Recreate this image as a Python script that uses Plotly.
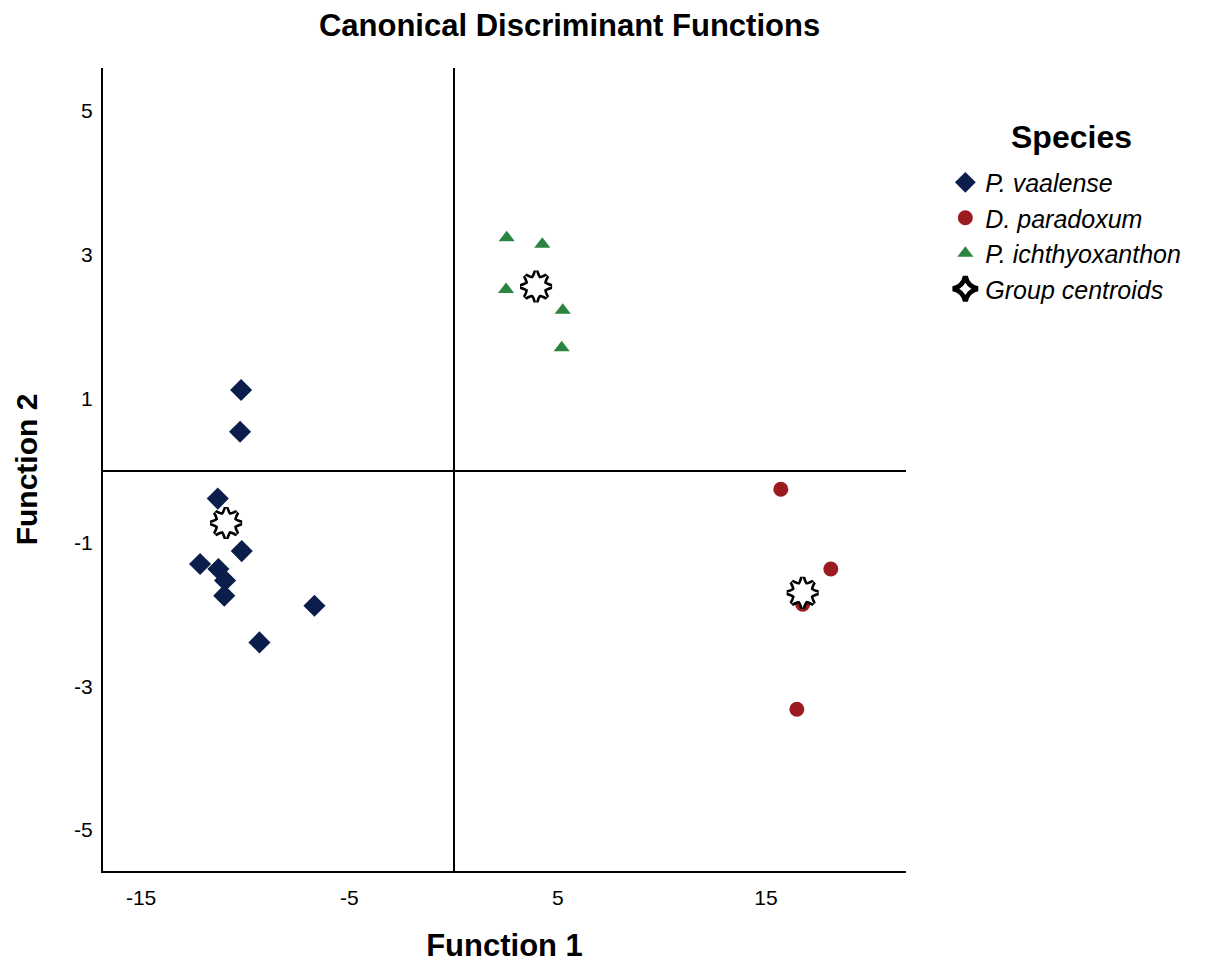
import plotly.graph_objects as go

# Function 1 / Function 2 scores per species
vaalense_f1 = [-10.20, -10.25, -11.32, -10.17, -12.17, -11.29, -10.97, -11.01, -6.68, -9.32]
vaalense_f2 = [1.12, 0.54, -0.39, -1.12, -1.30, -1.37, -1.53, -1.74, -1.88, -2.39]
paradoxum_f1 = [15.71, 18.11, 16.76, 16.48]
paradoxum_f2 = [-0.26, -1.37, -1.86, -3.32]
ichthy_f1 = [2.55, 4.26, 2.52, 5.24, 5.19]
ichthy_f2 = [3.24, 3.15, 2.52, 2.23, 1.71]
centroid_f1 = [-10.92, 3.96, 16.76]
centroid_f2 = [-0.73, 2.56, -1.70]

x_ticks = [-15, -5, 5, 15]
x_tick_text = ["-15", "-5", "5", "15"]
y_ticks = [-5, -3, -1, 1, 3, 5]
y_tick_text = ["-5", "-3", "-1", "1", "3", "5"]

FONT = "Liberation Sans, Arial, sans-serif"

fig = go.Figure()
fig.add_trace(go.Scatter(x=vaalense_f1, y=vaalense_f2, mode="markers", name="P. vaalense",
                         legendgroup="a",
                         marker=dict(symbol="diamond", size=17, color="#0B1E4B")))
fig.add_trace(go.Scatter(x=paradoxum_f1, y=paradoxum_f2, mode="markers", name="D. paradoxum",
                         legendgroup="b",
                         marker=dict(symbol="circle", size=15, color="#9B1C20")))
fig.add_trace(go.Scatter(x=ichthy_f1, y=ichthy_f2, mode="markers", name="P. ichthyoxanthon",
                         legendgroup="c",
                         marker=dict(symbol="triangle-up", size=14, color="#2A8540")))
# 8-pointed star built from two rotated star-squares
for ang, lw, show in [(45, 5, True), (0, 5, False), (45, 0, False), (0, 0, False)]:
    fig.add_trace(go.Scatter(x=centroid_f1, y=centroid_f2, mode="markers", name="Group centroids",
                             legendgroup="d", showlegend=show,
                             marker=dict(symbol="star-square", size=20, angle=ang, color="white",
                                         line=dict(color="black", width=lw))))

fig.update_layout(
    width=1201, height=962,
    paper_bgcolor="white", plot_bgcolor="white",
    margin=dict(l=95, r=303, t=60, b=99),
    font=dict(family=FONT, color="black"),
    title=dict(text="<b>Canonical Discriminant Functions</b>", x=0.581, xanchor="center",
               xref="paper", y=0.982, yref="container", yanchor="middle",
               font=dict(size=31, family=FONT, color="black")),
    legend=dict(x=1.049, y=0.886, xanchor="left", yanchor="top",
                font=dict(size=25, family=FONT, color="black", style="italic"),
                tracegroupgap=0, bgcolor="rgba(0,0,0,0)"),
    annotations=[dict(text="<b>Species</b>", xref="paper", yref="paper",
                      x=1.206, y=0.914, xanchor="center", yanchor="middle",
                      showarrow=False, font=dict(size=32, family=FONT, color="black"))],
    xaxis=dict(range=[-16.83, 21.72], tickvals=x_ticks, ticktext=x_tick_text, showgrid=False,
               zeroline=True, zerolinecolor="black", zerolinewidth=2,
               showline=True, linecolor="black", linewidth=2,
               ticks="", ticklabelstandoff=7, automargin=False,
               tickfont=dict(size=21, family=FONT, color="black"),
               title=dict(text="<b>Function 1</b>", standoff=26,
                          font=dict(size=31, family=FONT, color="black"))),
    yaxis=dict(range=[-5.57, 5.60], tickvals=y_ticks, ticktext=y_tick_text, showgrid=False,
               zeroline=True, zerolinecolor="black", zerolinewidth=2,
               showline=True, linecolor="black", linewidth=2,
               ticks="", ticklabelstandoff=4, automargin=False,
               tickfont=dict(size=21, family=FONT, color="black"),
               title=dict(text="<b>Function 2</b>", standoff=28,
                          font=dict(size=30, family=FONT, color="black"))),
    hovermode=False,
)

fig.write_html("out.html")
